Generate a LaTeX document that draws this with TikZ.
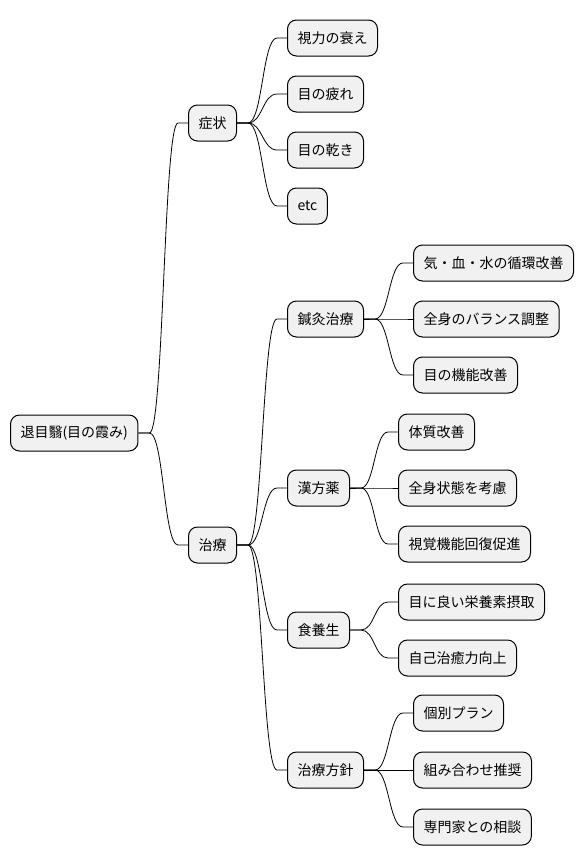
\documentclass[tikz,border=0pt]{standalone}
\usepackage{fontspec}
\setmainfont{Noto Sans CJK JP}
\usetikzlibrary{calc}
\definecolor{boxgray}{HTML}{F1F1F1}

\begin{document}
\begin{tikzpicture}[x=1pt,y=-1pt,
  topic/.style={draw,fill=boxgray,rounded corners=9pt,line width=1pt,
    minimum height=36pt,inner xsep=10pt,anchor=west,
    font=\fontsize{14}{16}\selectfont},
  branch/.style={line width=.8pt}]
\useasboundingbox (0,0) rectangle (583,865);
% root and first level
\node[topic] (root) at (10,433) {退目翳(目の霞み)};
\node[topic] (sympt) at (188,123) {症状};
\node[topic] (treat) at (188,545) {治療};
% symptoms
\node[topic] (sight) at (287,38) {視力の衰え};
\node[topic] (tired) at (287,94) {目の疲れ};
\node[topic] (dry) at (287,150) {目の乾き};
\node[topic] (etc) at (287,206) {etc};
% treatments
\node[topic] (acu) at (287,319) {鍼灸治療};
\node[topic] (kampo) at (287,488) {漢方薬};
\node[topic] (diet) at (287,630) {食養生};
\node[topic] (plan) at (287,770) {治療方針};
\node[topic] (acuA) at (413,263) {気・血・水の循環改善};
\node[topic] (acuB) at (413,319) {全身のバランス調整};
\node[topic] (acuC) at (413,375) {目の機能改善};
\node[topic] (kampoA) at (398,432) {体質改善};
\node[topic] (kampoB) at (398,488) {全身状態を考慮};
\node[topic] (kampoC) at (398,544) {視覚機能回復促進};
\node[topic] (dietA) at (398,602) {目に良い栄養素摂取};
\node[topic] (dietB) at (398,658) {自己治癒力向上};
\node[topic] (planA) at (413,713) {個別プラン};
\node[topic] (planB) at (413,770) {組み合わせ推奨};
\node[topic] (planC) at (413,827) {専門家との相談};
% connectors
\foreach \a/\b in {root/sympt,root/treat,sympt/sight,sympt/tired,sympt/dry,sympt/etc,
  treat/acu,treat/kampo,treat/diet,treat/plan,acu/acuA,acu/acuB,acu/acuC,
  kampo/kampoA,kampo/kampoB,kampo/kampoC,diet/dietA,diet/dietB,
  plan/planA,plan/planB,plan/planC}
  \draw[branch] let \p1=($(\a.east)+(11,0)$), \p2=($(\b.west)+(-10,0)$) in
    (\a.east) -- (\p1) .. controls ({(\x1+\x2)/2},\y1) and ({(\x1+\x2)/2},\y2) .. (\p2) -- (\b.west);
\end{tikzpicture}
\end{document}
